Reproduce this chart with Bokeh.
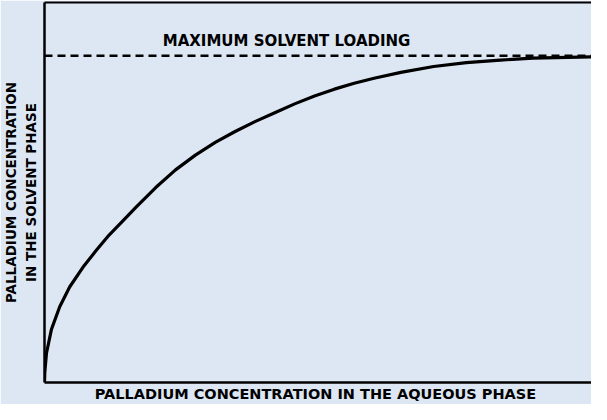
from bokeh.plotting import figure
from bokeh.models import LinearAxis, Label, Range1d, FixedTicker, Span
from bokeh.embed import file_html
from bokeh.resources import INLINE

# Aqueous-phase concentration (relative units, 0-100 across the chart)
aqueous = [0.0, 0.05, 0.36, 1.25, 2.74, 4.53, 6.92, 9.30, 11.68, 14.08, 16.46,
           20.04, 23.61, 27.19, 30.77, 34.35, 37.92, 41.50, 45.08, 48.66,
           52.24, 55.81, 59.39, 64.22, 70.13, 76.03, 82.11, 88.01, 100.0]
# Solvent-phase concentration (relative units, 0-100 up the chart)
solvent = [0.0, 2.59, 7.77, 13.99, 19.95, 25.13, 30.31, 34.72, 38.86, 42.49, 46.11,
           51.30, 55.96, 59.84, 63.21, 66.06, 68.65, 70.98, 73.32, 75.39,
           77.20, 78.76, 80.05, 81.61, 83.16, 84.20, 84.84, 85.36, 85.75]
max_loading = 86.0
max_loading_text = "MAXIMUM SOLVENT LOADING"
x_title = "PALLADIUM CONCENTRATION IN THE AQUEOUS  PHASE"
y_title = "PALLADIUM CONCENTRATION\nIN THE SOLVENT PHASE"

BG = "#dde7f3"
FONT = "DejaVu Sans"

p = figure(width=591, height=404, output_backend="svg", toolbar_location=None,
           x_range=Range1d(0, 98.57), y_range=Range1d(0, 100),
           min_border_left=40, min_border_right=0, min_border_top=2,
           min_border_bottom=0)
p.background_fill_color = BG
p.border_fill_color = BG
p.outline_line_color = None
p.grid.visible = False

top_axis = LinearAxis()
p.add_layout(top_axis, "above")

for ax in p.xaxis + p.yaxis:
    ax.ticker = FixedTicker(ticks=[])
    ax.major_tick_line_color = None
    ax.minor_tick_line_color = None
    ax.major_tick_out = 0
    ax.major_tick_in = 0
    ax.major_label_standoff = 0
    ax.major_label_text_font_size = "0px"
    ax.axis_line_color = "black"
    ax.axis_line_width = 2.5
    ax.axis_label_text_font = FONT
    ax.axis_label_text_font_style = "bold"
    ax.axis_label_text_color = "black"

p.below[0].axis_label = x_title
p.below[0].axis_label_text_font_size = "14.5px"
p.below[0].axis_label_standoff = 3
p.left[0].axis_label = y_title
p.left[0].axis_label_text_font_size = "13.5px"
p.left[0].axis_label_standoff = 6
top_axis.axis_line_width = 2

p.add_layout(Span(location=max_loading, dimension="width", line_color="black",
                  line_width=2.5, line_dash="8 5"))
p.add_layout(Label(x=21.3, y=max_loading + 1.4, text=max_loading_text,
                   text_font=FONT, text_font_style="bold", text_font_size="15px",
                   text_color="black", text_baseline="bottom"))

p.line(aqueous, solvent, line_color="black", line_width=3.2, line_join="round")

open("out.html", "w").write(file_html(p, INLINE))
